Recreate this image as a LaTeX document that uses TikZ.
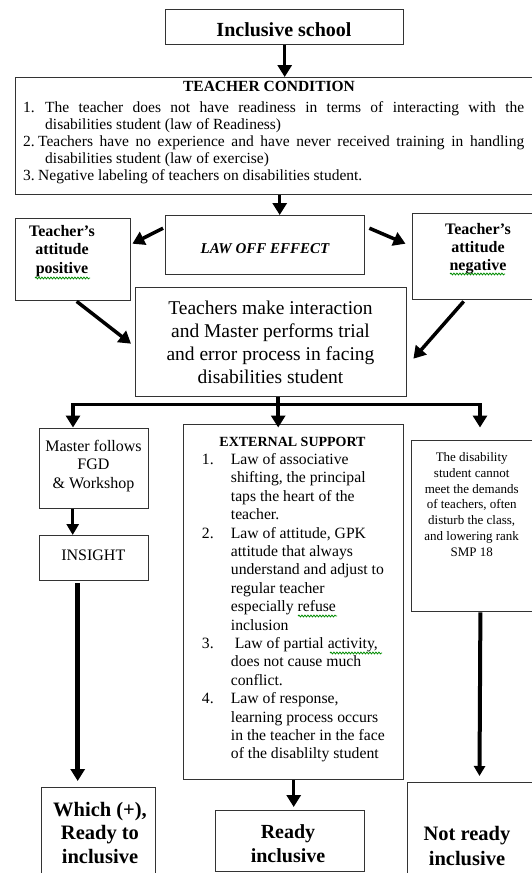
\documentclass[tikz,border=0pt]{standalone}
\usepackage{fontspec}
\setmainfont{Liberation Serif}
\usetikzlibrary{arrows.meta,calc,decorations.pathmorphing}
\newcommand{\clines}[2]{\vtop{\baselineskip=#1pt\lineskiplimit=-100pt\lineskip=0pt\halign{\hfil##\hfil\cr#2\crcr}}}
\begin{document}
\begin{tikzpicture}[x=1pt,y=-1pt,
  box/.style={draw=black!80, line width=1.4pt, fill=white, rectangle, inner sep=0pt, anchor=north west},
  arr/.style={line width=3.5pt, -{Triangle[width=14pt,length=12pt]}},
  txt/.style={inner sep=0pt, anchor=base},
  squig/.style={draw=green!55!black, line width=0.8pt, decorate, decoration={snake, segment length=3pt, amplitude=0.9pt}}]
\useasboundingbox (0,0) rectangle (532,873);
\fill[white] (0,0) rectangle (532,873);
\clip (0,0) rectangle (532,873);

% boxes
\node[box, minimum width=238pt, minimum height=35.5pt] (school) at (165,8.5) {};
\node[box, minimum width=530pt, minimum height=117pt] (cond) at (15,77) {};
\node[box, minimum width=199pt, minimum height=59pt] (law) at (165,215) {};
\node[box, minimum width=115pt, minimum height=82pt] (pos) at (15,218) {};
\node[box, minimum width=133pt, minimum height=86pt] (neg) at (412,213) {};
\node[box, minimum width=271pt, minimum height=109pt] (inter) at (135,287) {};
\node[box, minimum width=109pt, minimum height=80pt] (master) at (39,428) {};
\node[box, minimum width=109pt, minimum height=45pt] (insight) at (39,535) {};
\node[box, minimum width=114pt, minimum height=100pt] (which) at (41,787) {};
\node[box, minimum width=220pt, minimum height=355pt] (ext) at (183,424) {};
\node[box, minimum width=149pt, minimum height=61pt] (ready) at (215,810) {};
\node[box, minimum width=134pt, minimum height=171pt] (dis) at (410.7,440) {};
\node[box, minimum width=138pt, minimum height=100pt] (notready) at (407,782) {};

% texts
\node[txt, font=\fontsize{20}{24}\selectfont\bfseries] (tschool) at (284,36.6) {Inclusive school};
\node[txt, font=\fontsize{15.5}{17}\selectfont\bfseries] (tcondtitle) at (269,91.5) {TEACHER CONDITION};
\node[txt, anchor=base west, font=\fontsize{15.5}{17}\selectfont] (tcond) at (23,112.5) {\vtop{\baselineskip=17pt\lineskiplimit=-100pt\lineskip=0pt
  \hbox{\hbox to 22pt{1.\hfil}\makebox[479pt][s]{The teacher does not have readiness in terms of interacting with the}}
  \hbox{\hspace*{22pt}disabilities student (law of Readiness)}
  \hbox{\hbox to 15pt{2.\hfil}\makebox[486pt][s]{Teachers have no experience and have never received training in handling}}
  \hbox{\hspace*{22pt}disabilities student (law of exercise)}
  \hbox{\hbox to 15pt{3.\hfil}Negative labeling of teachers on disabilities student.}}};
\node[txt, font=\fontsize{15}{17}\selectfont\bfseries\itshape] (tlaw) at (265,253) {LAW OFF EFFECT};
\node[txt, font=\fontsize{16}{19}\selectfont\bfseries] (tpos) at (62,236) {\clines{18.5}{Teacher's\cr attitude\cr positive}};
\node[txt, font=\fontsize{16}{19}\selectfont\bfseries] (tneg) at (478,234) {\clines{18}{Teacher's\cr attitude\cr negative}};
\node[txt, font=\fontsize{19.5}{23}\selectfont] (tinter) at (270.5,314) {\clines{23.3}{Teachers make interaction\cr and Master performs trial\cr and error process in facing\cr disabilities student}};
\node[txt, font=\fontsize{16}{18}\selectfont] (tmaster) at (93.5,451) {\clines{18.5}{Master follows\cr FGD\cr \& Workshop}};
\node[txt, font=\fontsize{16}{18}\selectfont] (tinsight) at (93.3,560) {INSIGHT};
\node[txt, font=\fontsize{14}{16}\selectfont\bfseries] (texttitle) at (292.5,446.7) {EXTERNAL SUPPORT};
\node[txt, anchor=base west, font=\fontsize{15.7}{18.4}\selectfont] (text) at (201.7,464.5) {\vtop{\baselineskip=18.4pt\lineskiplimit=-100pt\lineskip=0pt
  \hbox{\hbox to 29pt{1.\hfil}Law of associative}
  \hbox{\hspace*{29pt}shifting, the principal}
  \hbox{\hspace*{29pt}taps the heart of the}
  \hbox{\hspace*{29pt}teacher.}
  \hbox{\hbox to 29pt{2.\hfil}Law of attitude, GPK}
  \hbox{\hspace*{29pt}attitude that always}
  \hbox{\hspace*{29pt}understand and adjust to}
  \hbox{\hspace*{29pt}regular teacher}
  \hbox{\hspace*{29pt}especially refuse}
  \hbox{\hspace*{29pt}inclusion}
  \hbox{\hbox to 29pt{3.\hfil}\hspace*{4pt}Law of partial activity,}
  \hbox{\hspace*{29pt}does not cause much}
  \hbox{\hspace*{29pt}conflict.}
  \hbox{\hbox to 29pt{4.\hfil}Law of response,}
  \hbox{\hspace*{29pt}learning process occurs}
  \hbox{\hspace*{29pt}in the teacher in the face}
  \hbox{\hspace*{29pt}of the disablilty student}}};
\node[txt, font=\fontsize{13}{15.8}\selectfont] (tdis) at (471.7,461.5) {\clines{15.8}{The disability\cr student cannot\cr meet the demands\cr of teachers, often\cr disturb the class,\cr and lowering rank\cr SMP 18}};
\node[txt, font=\fontsize{20.5}{24}\selectfont\bfseries] (twhich) at (100,816) {\clines{23.8}{Which (+),\cr Ready to\cr inclusive}};
\node[txt, font=\fontsize{20}{24}\selectfont\bfseries] (tready) at (288,838) {\clines{24}{Ready\cr inclusive}};
\node[txt, font=\fontsize{20.5}{24}\selectfont\bfseries] (tnotready) at (467,840) {\clines{25.5}{Not ready\cr inclusive}};

% spell-check squiggles
\draw[squig] (35,278) -- (90,278);
\draw[squig] (450,274) -- (505,274);
\draw[squig] (298,616) -- (337,616);
\draw[squig] (330,653) -- (382,653);

% connectors
\draw[arr] (school.south) -- (school.south |- cond.north);
\coordinate (lawin) at ([xshift=14.5pt]law.north);
\draw[arr] (lawin |- cond.south) -- (lawin);
\draw[arr] ([xshift=-2pt,yshift=17pt]law.west) -- ([xshift=1pt,yshift=16pt]pos.east);
\draw[arr] ([xshift=4pt,yshift=17pt]law.east) -- ([xshift=-6.5pt,yshift=13pt]neg.west);
\draw[arr] ([xshift=3.5pt]pos.south) -- ([xshift=-4pt,yshift=-1.5pt]inter.west);
\draw[arr] ([xshift=-15.5pt,yshift=-1pt]neg.south) -- ([xshift=6pt,yshift=-16.5pt]inter.east);
\coordinate (m) at ([xshift=7pt]inter.south);
\coordinate (m2) at (m |- ext.north);
\draw[arr] (m) -- ([yshift=-3.5pt]m2);
\coordinate (hm) at (277.6,404.5);
\coordinate (lT) at (73,427.5);
\coordinate (rT) at (480,427.5);
\draw[arr] (hm) -| (lT);
\draw[arr] (hm) -| (rT);
\draw[arr, -{Triangle[width=12pt,length=11pt]}] ([xshift=-21.5pt]master.south) -- ([xshift=-21.5pt]insight.north);
\draw[line width=5pt, -{Triangle[width=14pt,length=12pt]}] ([xshift=-16.5pt,yshift=-2pt]insight.south) -- ([xshift=-21pt,yshift=6pt]which.north);
\draw[arr] (ext.south) -- ([yshift=3pt]ext.south |- ready.north);
\coordinate (nT) at (479.5,776);
\draw[line width=4pt, -{Triangle[width=11pt,length=10pt]}] ([xshift=2pt]dis.south) -- (nT);
\end{tikzpicture}
\end{document}
